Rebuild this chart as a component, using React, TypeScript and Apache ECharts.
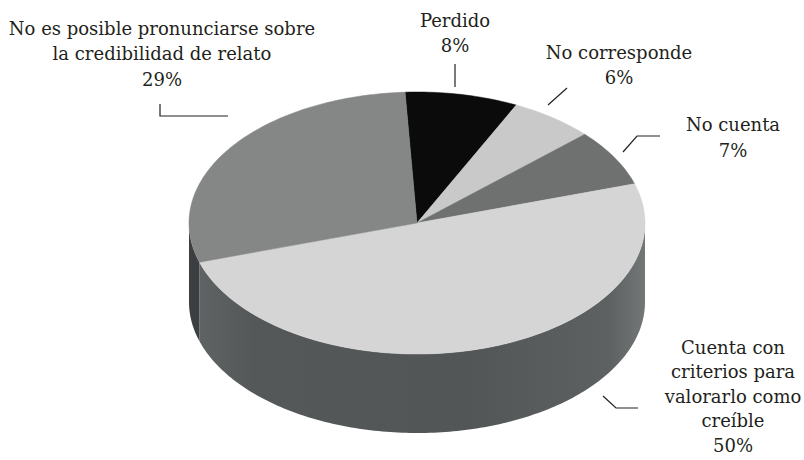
import React, { useEffect, useRef } from "react";
import * as echarts from "echarts";

// ---- data ----
const categories = [
  "Perdido",
  "No corresponde",
  "No cuenta",
  "Cuenta con\ncriterios para\nvalorarlo como\ncreíble",
  "No es posible pronunciarse sobre\nla credibilidad de relato",
];
const values = [8, 6, 7, 50, 29];

// ---- styling / layout (not data) ----
const topColors = ["#0b0b0c", "#c8c9c8", "#6f7171", "#d4d5d4", "#858787"];
const sideColors = [
  "#1a1a1a",
  "#9a9b9a",
  "#4f5152",
  {
    type: "linear",
    x: 0,
    y: 0,
    x2: 1,
    y2: 0,
    colorStops: [
      { offset: 0, color: "#606364" },
      { offset: 0.12, color: "#555859" },
      { offset: 0.6, color: "#535657" },
      { offset: 0.92, color: "#5e6162" },
      { offset: 1, color: "#747778" },
    ],
  },
  "#3c3f41",
];
const CX = 417;
const CY = 223;
const RX = 228;
const RY = 131;
const DEPTH = 79;
const START_DEG = -3;

const labelPos: [number, number][] = [
  [455, 33],
  [619, 65],
  [733, 137.5],
  [733, 396],
  [162, 53.5],
];
const labelLineHeight = [25.5, 25.5, 25.5, 24.5, 25.5];
const leaderLines: [number, number][][] = [
  [[455, 64], [455, 87]],
  [[567, 88], [548, 105]],
  [[660, 136], [637, 136], [623, 152]],
  [[603, 396], [616, 408], [638, 408]],
  [[160, 104], [160, 116], [228, 116]],
];

const total = values.reduce((a, b) => a + b, 0);

function rim(deg: number, dy = 0): number[] {
  const r = (deg * Math.PI) / 180;
  return [CX + RX * Math.sin(r), CY - RY * Math.cos(r) + dy];
}

function arcPoints(a: number, b: number, dy = 0): number[][] {
  const pts: number[][] = [];
  const steps = Math.max(2, Math.ceil(Math.abs(b - a) / 1));
  for (let i = 0; i <= steps; i++) {
    pts.push(rim(a + ((b - a) * i) / steps, dy));
  }
  return pts;
}

export default function App() {
  const ref = useRef<HTMLDivElement>(null);
  useEffect(() => {
    if (!ref.current) return;
    const chart = echarts.init(ref.current, undefined, { renderer: "svg" });

    const renderItem = (params: any, api: any) => {
      const idx = params.dataIndex;
      let before = 0;
      for (let i = 0; i < idx; i++) before += values[i];
      const v = api.value(0);
      const a = START_DEG + (before / total) * 360;
      const b = a + (v / total) * 360;
      const children: any[] = [];
      const s = Math.max(a, 90);
      const e = Math.min(b, 270);
      if (e > s) {
        const top = arcPoints(s, e);
        const bottom = arcPoints(e, s, DEPTH);
        children.push({
          type: "polygon",
          shape: { points: top.concat(bottom) },
          style: { fill: sideColors[idx] as any, stroke: null },
          z2: 1,
        });
      }
      const pts = [[CX, CY]].concat(arcPoints(a, b));
      children.push({
        type: "polygon",
        shape: { points: pts },
        style: { fill: topColors[idx], stroke: topColors[idx], lineWidth: 0.5 },
        z2: 2,
      });
      return { type: "group", children };
    };

    const graphics: any[] = [];
    categories.forEach((name, i) => {
      graphics.push({
        type: "text",
        x: labelPos[i][0],
        y: labelPos[i][1],
        silent: true,
        style: {
          text: `${name}\n${values[i]}%`,
          align: "center",
          verticalAlign: "middle",
          fontFamily: "DejaVu Serif",
          fontSize: 18,
          lineHeight: labelLineHeight[i],
          fill: "#231f20",
        },
      });
      graphics.push({
        type: "polyline",
        silent: true,
        shape: { points: leaderLines[i] },
        style: { stroke: "#231f20", lineWidth: 1.2, fill: null },
      });
    });

    chart.setOption({
      animation: false,
      backgroundColor: "#ffffff",
      series: [
        {
          type: "custom",
          coordinateSystem: "none",
          renderItem,
          data: values.map((v, i) => ({ name: categories[i], value: [v] })),
          silent: true,
        },
      ],
      graphic: graphics,
    });
    return () => chart.dispose();
  }, []);
  return (
    <div
      ref={ref}
      style={{ position: "absolute", left: 0, top: 0, width: 804, height: 460 }}
    />
  );
}
